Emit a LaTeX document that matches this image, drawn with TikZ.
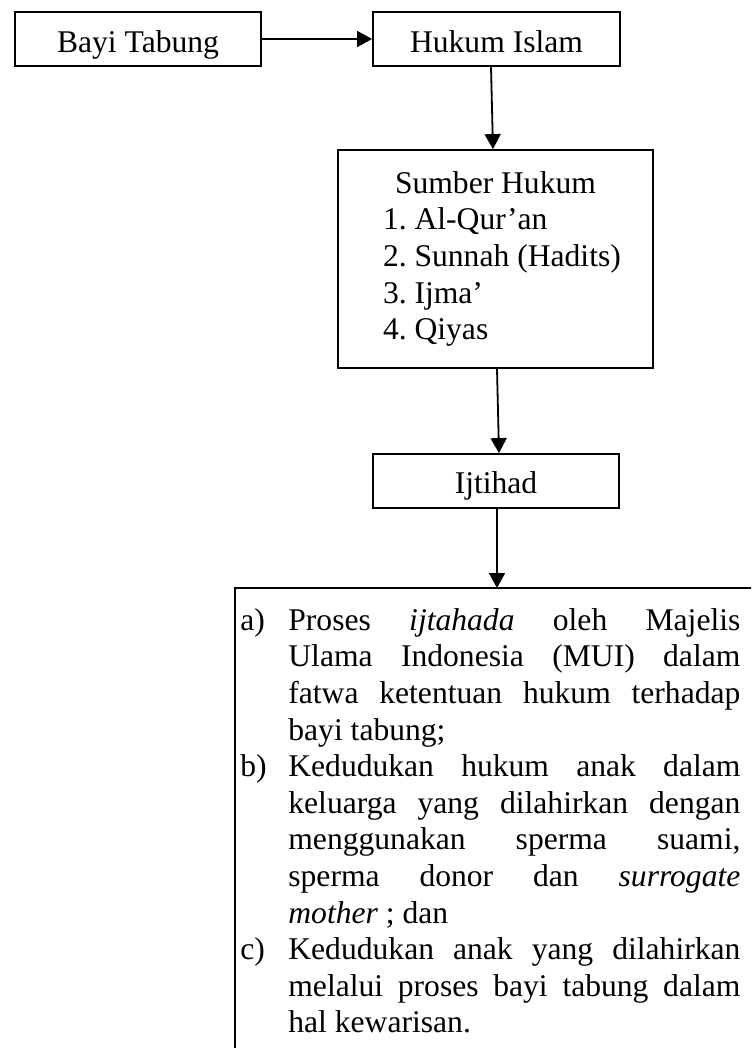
\documentclass[tikz,border=0pt]{standalone}
\usepackage{fontspec}
\setmainfont{Liberation Serif}
\usetikzlibrary{arrows.meta}
\newcommand\rapat{\fontsize{15.8}{18.3}\selectfont\spaceskip=0pt\xspaceskip=0pt\frenchspacing}
\newcommand\baris[1]{\makebox[226pt][s]{#1}}
\tikzset{
  kotak/.style={draw, line width=0.9pt, rectangle, inner sep=0pt},
  panah/.style={-{Triangle[length=7.5pt,width=8pt]}, line width=0.9pt}
}
\begin{document}
\begin{tikzpicture}[x=0.5pt,y=-0.5pt,font=\rapat]
  \useasboundingbox (0,0) rectangle (751,1048);
  \clip (0,0) rectangle (751,1048);
  \node[kotak,minimum width=123pt,minimum height=27pt,text height=14pt,text depth=0pt] (bayi) at (138,39) {Bayi Tabung};
  \node[kotak,minimum width=123.5pt,minimum height=27pt,text height=14pt,text depth=0pt] (hukum) at (496.5,39) {Hukum Islam};
  \node[kotak,minimum width=157.5pt,minimum height=109pt,text width=157.5pt,align=left] (sumber) at (495.5,259)
    {\rapat\hspace*{28.5pt}Sumber Hukum\\
     \hspace*{22.5pt}1. Al-Qur’an\\
     \hspace*{22.5pt}2. Sunnah (Hadits)\\
     \hspace*{22.5pt}3. Ijma’\\
     \hspace*{22.5pt}4. Qiyas};
  \node[kotak,minimum width=123pt,minimum height=27pt,text height=12pt,text depth=0pt] (ijtihad) at (496,481) {Ijtihad};
  \node[anchor=north west,inner xsep=2.5pt,inner ysep=10pt,text width=250pt,align=left] (hasil) at (235,588)
    {\rapat\makebox[24pt][l]{a)}\baris{Proses \textit{ijtahada} oleh Majelis}\\
     \hspace*{24pt}\baris{Ulama Indonesia (MUI) dalam}\\
     \hspace*{24pt}\baris{fatwa ketentuan hukum terhadap}\\
     \hspace*{24pt}bayi tabung;\\
     \makebox[24pt][l]{b)}\baris{Kedudukan hukum anak dalam}\\
     \hspace*{24pt}\baris{keluarga yang dilahirkan dengan}\\
     \hspace*{24pt}\baris{menggunakan sperma suami,}\\
     \hspace*{24pt}\baris{sperma donor dan \textit{surrogate}}\\
     \hspace*{24pt}\textit{mother} ; dan\\
     \makebox[24pt][l]{c)}\baris{Kedudukan anak yang dilahirkan}\\
     \hspace*{24pt}\baris{melalui proses bayi tabung dalam}\\
     \hspace*{24pt}hal kewarisan.};
  \draw[line width=0.9pt] (hasil.north west) rectangle ([xshift=20pt,yshift=-20pt]hasil.south east);
  \begin{scope}[panah]
    \draw (bayi) to (hukum);
    \draw ([xshift=-2.75pt]hukum.south) to ([xshift=-1.25pt]sumber.north);
    \draw ([xshift=0.75pt]sumber.south) to ([xshift=1.5pt]ijtihad.north);
    \draw ([xshift=0.5pt]ijtihad.south) to ([xshift=0.5pt]ijtihad.south |- hasil.north);
  \end{scope}
\end{tikzpicture}
\end{document}
